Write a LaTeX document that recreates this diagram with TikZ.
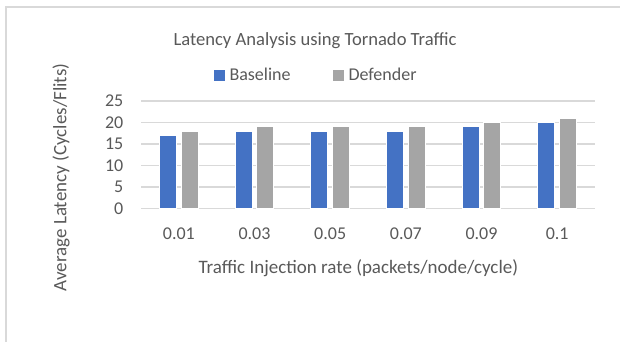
\documentclass[tikz,border=0pt]{standalone}
\usepackage{fontspec}
\setmainfont{Carlito}
\usetikzlibrary{positioning}
\definecolor{baseBlue}{HTML}{4472C4}
\definecolor{defGray}{HTML}{A5A5A5}
\definecolor{gridGray}{HTML}{D9D9D9}
\definecolor{txtGray}{HTML}{595959}

\begin{document}
\begin{tikzpicture}[x=1pt, y=1pt, font=\fontsize{18}{20}\selectfont,
    lbl/.style={inner sep=0pt, text=txtGray},
    axtitle/.style={lbl, font=\fontsize{19}{21}\selectfont},
    bar/.style={draw=white, line width=0.6pt},
    gridline/.style={draw=gridGray, line width=1.4pt},
    key/.style={inner sep=0pt, minimum size=10.5pt}]
    \useasboundingbox (0,0) rectangle (620,342);
    \draw[gridGray, line width=2pt] (6,0) -- (6,335) -- (620,335);
    \foreach \val [count=\k] in {0,5,...,25} {
      \coordinate (gl\k) at (141,133.7+4.29*\val);
      \coordinate (gr\k) at (595,133.7+4.29*\val);
      \draw[gridline] (gl\k) -- (gr\k);
      \node[lbl, anchor=east] (ytick\k) at (123.5,133.7+4.29*\val) {\val};
    }
    \foreach \rate/\bval/\dval [count=\i] in {0.01/17/18, 0.03/18/19, 0.05/18/19, 0.07/18/19, 0.09/19/20, 0.1/20/21} {
      \pgfmathsetmacro\cx{141+75.67*(\i-0.5)}
      \draw[bar, fill=baseBlue] (\cx-19.5,133.7) rectangle (\cx-2.5,133.7+4.29*\bval);
      \draw[bar, fill=defGray] (\cx+2,133.7) rectangle (\cx+19,133.7+4.29*\dval);
      \node[lbl, anchor=base] (xtick\i) at (\cx,102) {\rate};
    }
    \node[lbl, anchor=base, font=\fontsize{18.6}{20}\selectfont] (title) at (315,296.3) {Latency Analysis using Tornado Traffic};
    \node[key, fill=baseBlue] (keyBase) at (219.3,266.7) {};
    \node[lbl, anchor=base west] (txtBase) at (229.3,261.3) {Baseline};
    \node[key, fill=defGray] (keyDef) at (338.3,266.7) {};
    \node[lbl, anchor=base west] (txtDef) at (348.3,261.3) {Defender};
    \node[axtitle, anchor=base] (xtitle) at (358.3,68) {Traffic Injection rate (packets/node/cycle)};
    \node[axtitle, rotate=90] (ytitle) at (61,164.5) {Average Latency (Cycles/Flits)};
\end{tikzpicture}
\end{document}
